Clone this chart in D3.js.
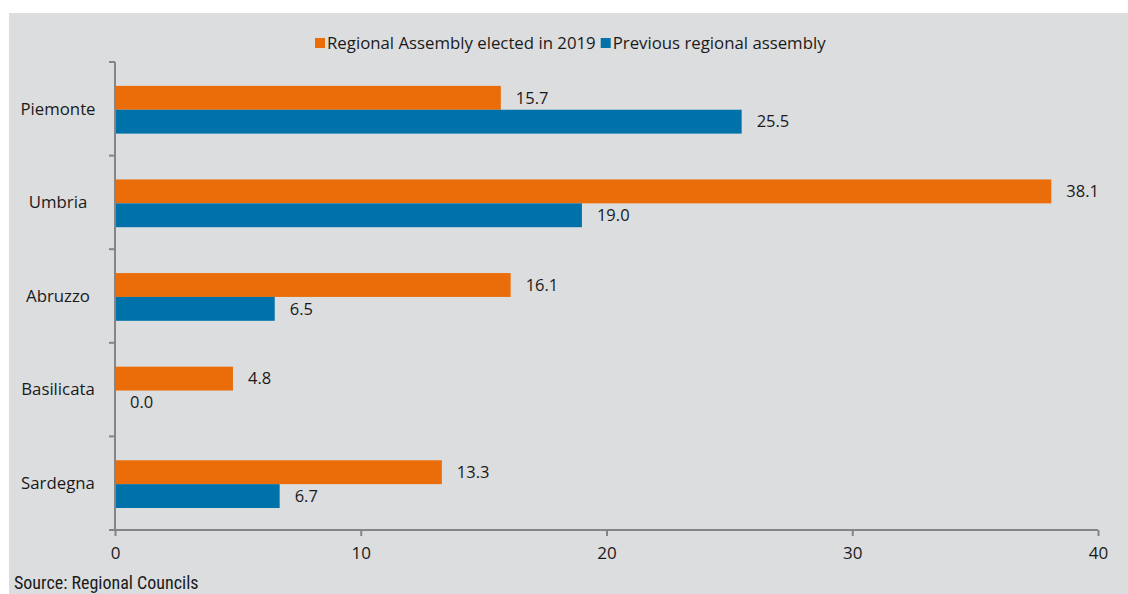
<!DOCTYPE html>
<html>
<head>
<meta charset="utf-8">
<script src="https://cdn.jsdelivr.net/npm/d3@7"></script>
<style>
  html, body { margin: 0; padding: 0; background: #ffffff; }
  svg { display: block; }
  text { font-family: "Open Sans", "Noto Sans", sans-serif; fill: #1a1a1a; }
</style>
</head>
<body>
<svg id="chart" width="1128" height="594"></svg>
<script>
// Share of women in regional assemblies (%)
const regions = ["Piemonte", "Umbria", "Abruzzo", "Basilicata", "Sardegna"];
const elected2019 = [15.7, 38.1, 16.1, 4.8, 13.3];
const previous = [25.5, 19.0, 6.5, 0.0, 6.7];
const seriesNames = ["Regional Assembly elected in 2019", "Previous regional assembly"];
const seriesColors = ["#eb6d09", "#0072a9"];
const xTicks = [0, 10, 20, 30, 40];

const svg = d3.select("#chart");
const W = 1128, H = 594;
const axisColor = "#858585";

// panel background
svg.append("rect").attr("x", 9).attr("y", 13).attr("width", W - 9).attr("height", H - 13)
  .attr("fill", "#dcdddf");

const x = d3.scaleLinear().domain([0, 40]).range([115, 1098]);
const y = d3.scaleBand().domain(regions).range([62, 530]);
const barH = y.bandwidth() * 0.255;

const series = [elected2019, previous];

// bars and value labels
series.forEach((vals, si) => {
  const g = svg.append("g");
  const top = (d) => y(d) + barH + si * barH;
  g.selectAll("rect").data(regions).join("rect")
    .attr("x", x(0))
    .attr("y", top)
    .attr("width", (d, i) => x(vals[i]) - x(0))
    .attr("height", barH)
    .attr("fill", seriesColors[si]);
  g.selectAll("text").data(regions).join("text")
    .attr("x", (d, i) => x(vals[i]) + 15)
    .attr("y", (d) => top(d) + barH / 2)
    .attr("dy", "0.35em")
    .attr("font-size", 16.5)
    .text((d, i) => vals[i].toFixed(1));
});

// y axis
const yAxis = svg.append("g");
yAxis.append("line").attr("x1", x(0)).attr("x2", x(0)).attr("y1", 62).attr("y2", 530)
  .attr("stroke", axisColor).attr("stroke-width", 2);
const yTickPos = regions.map((d) => y(d)).concat([530]);
yAxis.selectAll("line.t").data(yTickPos).join("line").attr("class", "t")
  .attr("x1", x(0) - 6).attr("x2", x(0)).attr("y1", (d) => d).attr("y2", (d) => d)
  .attr("stroke", axisColor).attr("stroke-width", 2);
yAxis.selectAll("text").data(regions).join("text")
  .attr("x", 58).attr("y", (d) => y(d) + y.bandwidth() / 2)
  .attr("dy", "0.35em").attr("text-anchor", "middle").attr("font-size", 16.8)
  .text((d) => d);

// x axis
const xAxis = svg.append("g").attr("transform", "translate(0,530)")
  .call(d3.axisBottom(x).tickValues(xTicks).tickSize(6).tickPadding(11).tickFormat(d3.format("d")));
xAxis.select(".domain").attr("stroke", axisColor).attr("stroke-width", 2)
  .attr("d", `M${x(0)},0H${x(40)}`);
xAxis.selectAll(".tick line").attr("stroke", axisColor).attr("stroke-width", 2).attr("y1", 0).attr("y2", 6);
xAxis.selectAll(".tick text").attr("font-size", 17).attr("fill", "#1a1a1a")
  .style("font-family", "'Open Sans', sans-serif");

// legend
const legend = svg.append("g").attr("transform", "translate(315,43)");
let lx = 0;
seriesNames.forEach((name, i) => {
  legend.append("rect").attr("x", lx).attr("y", -5).attr("width", 10).attr("height", 10)
    .attr("fill", seriesColors[i]);
  const t = legend.append("text").attr("x", lx + 12).attr("y", 0).attr("dy", "0.35em")
    .attr("font-size", 16.8).text(name);
  lx += 12 + t.node().getComputedTextLength() + 5;
});

// source note
svg.append("text").attr("x", 14).attr("y", 589)
  .attr("font-size", 18)
  .style("font-family", "'Liberation Sans Narrow', 'Roboto Condensed', sans-serif")
  .attr("fill", "#333")
  .text("Source: Regional Councils");
</script>
</body>
</html>
